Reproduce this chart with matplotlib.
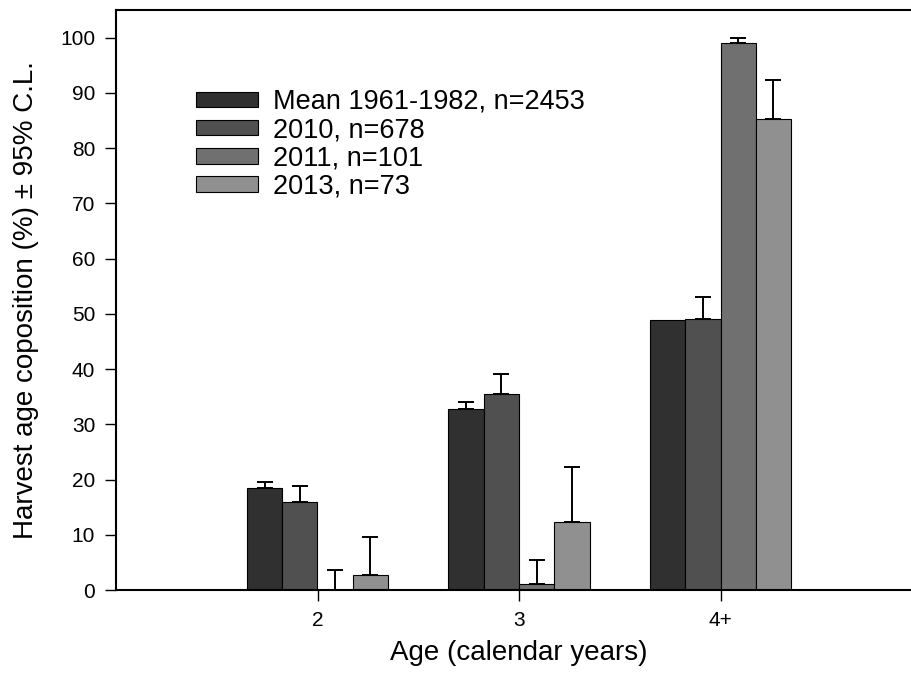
#!/usr/bin/env python3
#
# Harvest age composition by age class, with upper 95% confidence limits

import numpy as np
import matplotlib.pyplot as plt

plt.rcParams['font.family'] = ['Liberation Sans', 'DejaVu Sans']

categories = ['2', '3', '4+']
series_labels = ['Mean 1961-1982, n=2453', '2010, n=678', '2011, n=101', '2013, n=73']

mean_1961_1982 = [18.5, 32.8, 48.9]
mean_1961_1982_upper = [19.6, 34.1, 48.9]
comp_2010 = [15.9, 35.4, 49.0]
comp_2010_upper = [18.8, 39.1, 53.0]
comp_2011 = [0.0, 1.0, 99.1]
comp_2011_upper = [3.7, 5.4, 100.0]
comp_2013 = [2.8, 12.4, 85.3]
comp_2013_upper = [9.6, 22.2, 92.3]

values = [mean_1961_1982, comp_2010, comp_2011, comp_2013]
uppers = [mean_1961_1982_upper, comp_2010_upper, comp_2011_upper, comp_2013_upper]
colors = ['#303030', '#505050', '#707070', '#909090']

fig = plt.figure(figsize=(9.12, 6.86), dpi=100)
ax = fig.add_axes([116 / 912, 96 / 686, 806 / 912, 580 / 686])

x = np.arange(1, len(categories) + 1)
width = 0.175

for i, (vals, upper, color, label) in enumerate(zip(values, uppers, colors, series_labels)):
    pos = x + (i - 1.5) * width
    vals = np.array(vals)
    upper = np.array(upper)
    ax.bar(pos, vals, width, color=color, edgecolor='black', linewidth=0.8,
           label=label, zorder=2)
    err = upper - vals
    show = err > 0
    ax.errorbar(pos[show], vals[show], yerr=[np.zeros(show.sum()), err[show]],
                fmt='none', ecolor='black', elinewidth=1.4, capsize=6,
                capthick=1.4, zorder=3)

ax.set_xlim(0, 4)
ax.set_ylim(0, 105)
ax.set_xticks(x)
ax.set_xticklabels(categories)
ax.set_yticks(np.arange(0, 101, 10))
ax.tick_params(axis='both', direction='out', length=8, width=1.0,
               labelsize=15, pad=7)
ax.spines['right'].set_visible(False)
for side in ['left', 'bottom', 'top']:
    ax.spines[side].set_linewidth(1.5)

ax.set_xlabel('Age (calendar years)', fontsize=20, labelpad=7)
ax.set_ylabel('Harvest age coposition (%) \u00b1 95% C.L.', fontsize=20, labelpad=15)

ax.legend(loc='upper left', bbox_to_anchor=(196 / 912, 1 - 89 / 686),
          bbox_transform=fig.transFigure, frameon=False, fontsize=19.5,
          handlelength=2.3, handleheight=0.52, handletextpad=0.55,
          labelspacing=0.08, borderpad=0, borderaxespad=0)

plt.savefig('out.png', dpi=100)
